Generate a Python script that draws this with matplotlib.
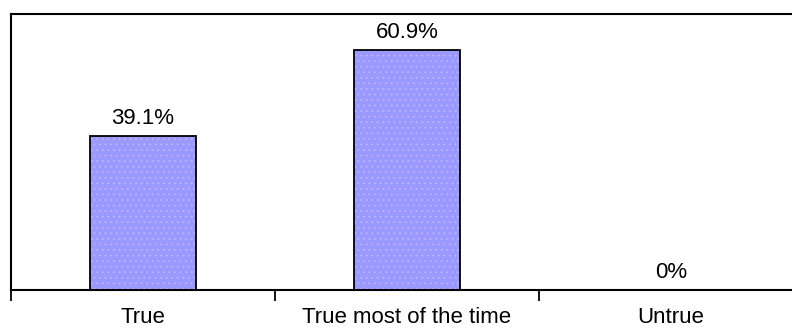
import matplotlib.pyplot as plt

categorias = ['True', 'True most of the time', 'Untrue']
percentuais = [39.1, 60.9, 0.0]
rotulos = ['39.1%', '60.9%', '0%']

plt.rcParams['font.family'] = ['Liberation Sans', 'DejaVu Sans']
plt.rcParams['hatch.linewidth'] = 0.6

fig = plt.figure(figsize=(7.92, 3.28), dpi=100)
# eixo mais largo que a figura: o lado direito fica cortado como no original
ax = fig.add_axes([11 / 792, 38 / 328, 792 / 792, 276 / 328])

pos = list(range(len(categorias)))
# preenchimento com pontinhos claros
ax.bar(pos, percentuais, width=0.4, color='#9999ff', edgecolor='#c4b4ff',
       hatch='...', linewidth=0)
ax.bar(pos, percentuais, width=0.4, color='none', edgecolor='black',
       linewidth=1.3)

for x, v, r in zip(pos, percentuais, rotulos):
    ax.text(x, v + 1.8, r, ha='center', va='bottom', fontsize=16)

ax.set_xlim(-0.5, 2.5)
ax.set_ylim(0, 70)
ax.set_yticks([])
ax.set_xticks([p + 0.5 for p in [-1] + pos[:-1]])
ax.set_xticklabels([])
ax.set_xticks(pos, minor=True)
ax.set_xticklabels(categorias, minor=True, fontsize=16)
ax.tick_params(axis='x', which='major', direction='out', length=8, width=1.3)
ax.tick_params(axis='x', which='minor', length=0, pad=12)

for lado in ['left', 'bottom', 'top']:
    ax.spines[lado].set_linewidth(1.5)
ax.spines['right'].set_visible(False)

plt.savefig('out.png', dpi=100)
